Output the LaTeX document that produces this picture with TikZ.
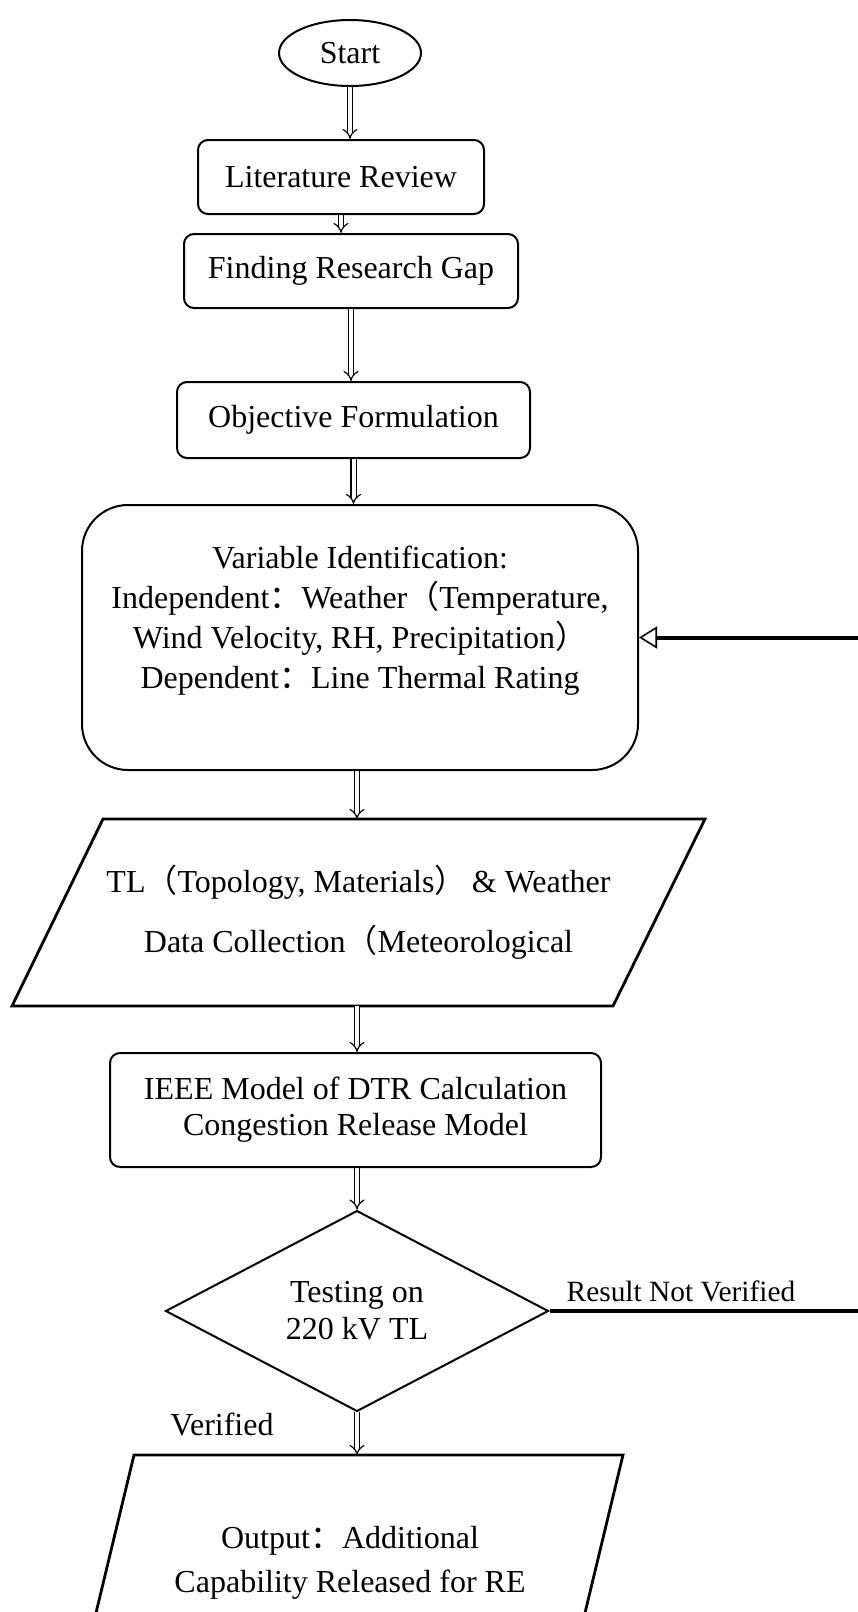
\documentclass[tikz,border=0pt]{standalone}
\usepackage{fontspec}
\setmainfont{Liberation Serif}
\newfontfamily\cjk{Noto Sans CJK SC}
\usepackage{tikz}
\usetikzlibrary{arrows.meta}
\usetikzlibrary{shapes.geometric, calc}
% ponctuation pleine chasse
\newcommand{\fwcolon}{{\cjk ：}}
\newcommand{\fwlp}{{\cjk （}}
\newcommand{\fwrp}{{\cjk ）}}

\tikzset{
  base/.style={draw, line width=1pt, align=center, inner sep=0pt, font=\fontsize{16}{20}\selectfont},
  startstop/.style={base, ellipse},
  process/.style={base, rounded corners=5pt},
  datatext/.style={base, draw=none},
  dataedge/.style={line width=1.4pt, line join=miter},
  decision/.style={base, diamond},
  flow/.style={double, double distance=2pt, line width=0.6pt, -{Implies}},
  loopback/.style={line width=2pt},
  tag/.style={font=\fontsize{#1}{#1}\selectfont}
}

\begin{document}
\begin{tikzpicture}[x=0.5pt, y=-0.5pt]
        % Cadre
        \useasboundingbox (0,0) rectangle (857,1612);

        % Etapes
        \node[startstop, minimum width=71pt, minimum height=33pt] (start) at (350,53) {Start};
        \node[process, minimum width=143pt, minimum height=37pt] (lit) at (341,177) {Literature Review};
        \node[process, minimum width=167pt, minimum height=37pt] (gap) at (351,271) {Finding Research Gap};
        \node[process, minimum width=176.5pt, minimum height=38pt] (obj) at (353.5,420) {Objective Formulation};
        \node[process, rounded corners=23pt, minimum width=278pt, minimum height=132.5pt] (var) at (360,637.5)
          {Variable Identification:\\
           Independent\fwcolon Weather\fwlp Temperature,\\
           Wind Velocity, RH, Precipitation\fwrp\\
           Dependent\fwcolon Line Thermal Rating\\ \mbox{}};

        % Donnees (parallelogramme)
        \node[datatext, minimum width=250pt, minimum height=92.5pt, font=\fontsize{16}{30}\selectfont] (data) at (358.5,912.5)
          {TL\fwlp Topology, Materials\fwrp\,\& Weather\\
           Data Collection\fwlp Meteorological};
        \draw[dataedge] (103,0 |- data.north) -- (705,0 |- data.north)
          -- (613,0 |- data.south) -- (12,0 |- data.south) -- cycle;

        \node[process, minimum width=245.5pt, minimum height=57pt, font=\fontsize{16}{18}\selectfont] (ieee) at (355.5,1110)
          {IEEE Model of DTR Calculation\\ Congestion Release Model};
        \node[decision, minimum width=191.5pt, minimum height=95pt, font=\fontsize{16}{18.5}\selectfont] (test) at (357,1311)
          {Testing on\\ 220 kV TL};

        % Sortie (parallelogramme coupe en bas)
        \node[datatext, minimum width=200pt, minimum height=107pt, font=\fontsize{16}{22}\selectfont] (out) at (350,1563)
          {Output\fwcolon Additional\\ Capability Released for RE};
        \draw[dataedge] (134,0 |- out.north) -- (623,0 |- out.north)
          -- (571,0 |- out.south) -- (82,0 |- out.south) -- cycle;

        % Libelles
        \node[tag=14.7] (notok) at (681,1291) {Result Not Verified};
        \node[tag=16] (ok) at (222,1424) {Verified};

        % Fleches
        \draw[flow] (start.south) -- (start.south |- lit.north);
        \draw[flow] (lit.south) -- (lit.south |- gap.north);
        \draw[flow] (gap.south) -- (gap.south |- obj.north);
        \draw[flow] (obj.south) -- (obj.south |- var.north);
        \draw[flow] (357,0 |- var.south) -- (357,0 |- data.north);
        \draw[flow] (357,0 |- data.south) -- (357,0 |- ieee.north);
        \draw[flow] (357,0 |- ieee.south) -- (test.north);
        \draw[flow] (test.south) -- (test.south |- out.north);

        % Retour
        \coordinate (rt) at (880,0);
        \draw[loopback, -{Triangle[open, line width=0.8pt, length=9pt, width=11pt]}]
          (test.east) -- (test.east -| rt) |- (var.east);
    \end{tikzpicture}
\end{document}
